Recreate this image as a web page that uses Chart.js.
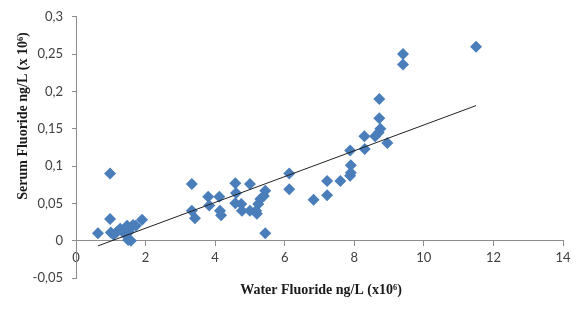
<!DOCTYPE html>
<html><head><meta charset="utf-8">
<script src="https://cdn.jsdelivr.net/npm/chart.js@4/dist/chart.umd.min.js"></script>
<style>html,body{margin:0;padding:0;background:#fff}#wrap{width:587px;height:310px}</style>
</head><body><div id="wrap"><canvas id="c" width="587" height="310"></canvas></div>
<script>
const waterFluoride = [0.63,0.98,0.98,1.00,1.08,1.18,1.27,1.38,1.47,1.52,1.50,1.58,1.64,1.72,1.90,
  3.33,3.33,3.42,3.80,3.83,4.12,4.14,4.17,4.58,4.60,4.58,4.75,4.77,5.00,5.00,5.18,5.24,5.30,5.44,5.40,5.44,5.20,
  6.13,6.13,6.83,7.22,7.22,7.60,7.88,7.90,7.90,7.88,8.30,8.29,8.60,8.70,8.75,8.72,8.72,8.95,9.40,9.40,11.50];
const serumFluoride = [0.010,0.090,0.029,0.011,0.008,0.012,0.016,0.010,0.020,0.012,0.001,0.000,0.021,0.020,0.028,
  0.076,0.040,0.030,0.059,0.047,0.059,0.040,0.034,0.077,0.064,0.050,0.049,0.040,0.076,0.040,0.040,0.049,0.056,0.067,0.060,0.010,0.036,
  0.090,0.069,0.055,0.080,0.061,0.080,0.087,0.091,0.101,0.121,0.123,0.140,0.140,0.145,0.150,0.164,0.190,0.131,0.250,0.236,0.260];
const trendX = [0.63, 11.5];
const trendY = [-0.007, 0.181];
const xTicks = [0,2,4,6,8,10,12,14];
const yTicks = [-0.05,0,0.05,0.1,0.15,0.2,0.25,0.3];
const xTitle = 'Water Fluoride ng/L (x10\u2076)';
const yTitle = 'Serum Fluoride ng/L (x 10\u2076)';

const points = waterFluoride.map((x,i)=>({x, y: serumFluoride[i]}));
const trend = trendX.map((x,i)=>({x, y: trendY[i]}));
const fmt = v => String(Math.round(v*100)/100).replace('.', ',');

const titlePlugin = {
  id: 'titles',
  afterDraw(chart) {
    const ctx = chart.ctx;
    ctx.save();
    ctx.fillStyle = '#1a1a1a';
    ctx.font = 'bold 14px "Liberation Serif"';
    ctx.textAlign = 'center';
    ctx.textBaseline = 'middle';
    ctx.fillText(xTitle, 321, 290);
    ctx.translate(23, 116);
    ctx.rotate(-Math.PI/2);
    ctx.fillText(yTitle, 0, 0);
    ctx.restore();
  }
};

new Chart(document.getElementById('c'), {
  type: 'scatter',
  data: { datasets: [
    { type: 'line', data: trend, borderColor: '#222', borderWidth: 1, pointRadius: 0, showLine: true, fill: false },
    { data: points, pointStyle: 'rectRot', pointRadius: 6, pointHoverRadius: 6, backgroundColor: '#4a7ebb', borderWidth: 0 }
  ]},
  options: {
    responsive: false, animation: false,
    layout: { padding: { left: 0, top: 15, right: 24, bottom: 32 } },
    plugins: { legend: { display: false }, tooltip: { enabled: false } },
    scales: {
      x: {
        type: 'linear', min: 0, max: 14, position: { y: 0 },
        afterBuildTicks: s => { s.ticks = xTicks.map(v => ({value: v})); },
        ticks: { color: '#404040', font: { family: 'Lato', size: 13 }, padding: 4 },
        grid: { drawOnChartArea: false, tickLength: 5, color: '#8c8c8c' },
        border: { color: '#8c8c8c' }
      },
      y: {
        type: 'linear', min: -0.05, max: 0.3,
        afterBuildTicks: s => { s.ticks = yTicks.map(v => ({value: v})); },
        afterFit: s => { s.width = 76; },
        ticks: { color: '#404040', font: { family: 'Lato', size: 13 }, padding: 9, callback: v => fmt(v) },
        grid: { drawOnChartArea: false, tickLength: 4, color: '#8c8c8c' },
        border: { color: '#8c8c8c' }
      }
    }
  },
  plugins: [titlePlugin]
});
</script></body></html>
